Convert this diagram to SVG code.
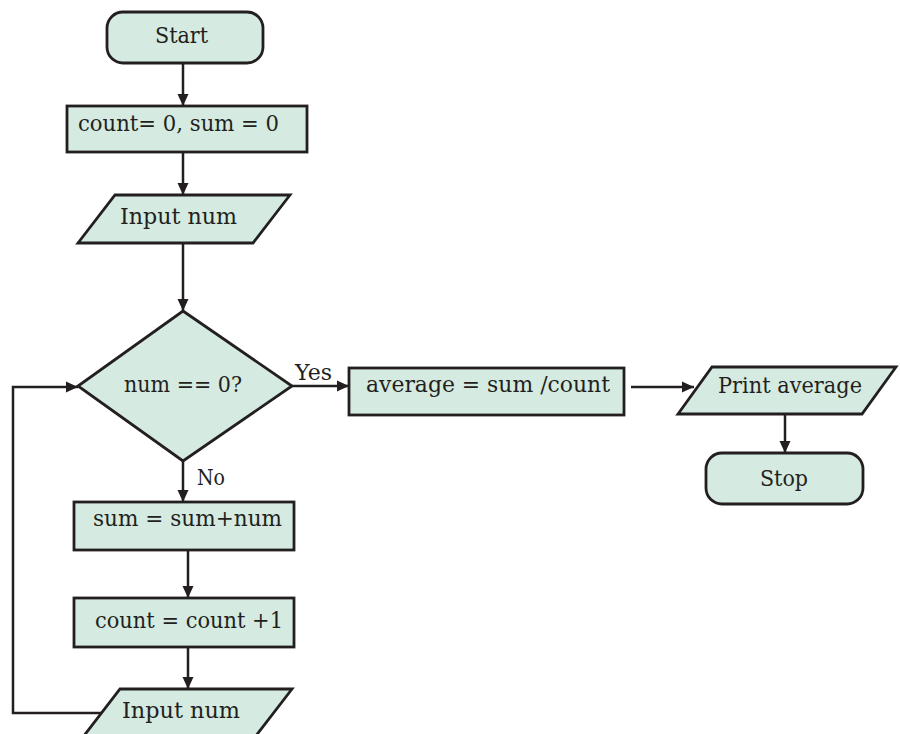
<svg xmlns="http://www.w3.org/2000/svg" width="900" height="734" viewBox="0 0 900 734">
<defs>
<marker id="ah" viewBox="0 0 12 12" refX="12" refY="6" markerWidth="12" markerHeight="12" markerUnits="userSpaceOnUse" orient="auto">
<path d="M0,0.5 L12,6 L0,11.5 z" fill="#231f20"/>
</marker>
<style>
.n{fill:#d5ebe1;stroke:#231f20;stroke-width:2.8}
.t{font-family:"DejaVu Serif","Liberation Serif",serif;font-size:23px;fill:#231f20}
.c{fill:none;stroke:#231f20;stroke-width:2.5}
</style>
</defs>
<rect width="900" height="734" fill="#ffffff"/>
<g id="connectors">
<line class="c" x1="183" y1="63" x2="183" y2="106" marker-end="url(#ah)"/>
<line class="c" x1="183" y1="152" x2="183" y2="195" marker-end="url(#ah)"/>
<line class="c" x1="183" y1="243" x2="183" y2="311" marker-end="url(#ah)"/>
<line class="c" x1="292" y1="386" x2="349" y2="386" marker-end="url(#ah)"/>
<line class="c" x1="631" y1="387" x2="694" y2="387" marker-end="url(#ah)"/>
<line class="c" x1="785" y1="414" x2="785" y2="453" marker-end="url(#ah)"/>
<line class="c" x1="183" y1="461" x2="183" y2="502" marker-end="url(#ah)"/>
<line class="c" x1="188" y1="550" x2="188" y2="598" marker-end="url(#ah)"/>
<line class="c" x1="188" y1="647" x2="188" y2="689" marker-end="url(#ah)"/>
<polyline class="c" points="102,713 13,713 13,387 78,387" marker-end="url(#ah)"/>
<text class="t" x="295" y="380" textLength="37" lengthAdjust="spacingAndGlyphs">Yes</text>
<text class="t" x="197" y="485" textLength="28" lengthAdjust="spacingAndGlyphs">No</text>
</g>
<g id="start">
<rect class="n" x="107" y="12" width="156" height="51" rx="16"/>
<text class="t" x="155" y="43" textLength="53" lengthAdjust="spacingAndGlyphs">Start</text>
</g>
<g id="init">
<rect class="n" x="67" y="106" width="240" height="46"/>
<text class="t" x="78" y="131" textLength="201" lengthAdjust="spacingAndGlyphs">count= 0, sum = 0</text>
</g>
<g id="input1">
<polygon class="n" points="115,195 290,195 253,243 78,243"/>
<text class="t" x="120" y="224" textLength="117" lengthAdjust="spacingAndGlyphs">Input num</text>
</g>
<g id="decision">
<polygon class="n" points="183,311 292,386 183,461 78,386"/>
<text class="t" x="124" y="392" textLength="118" lengthAdjust="spacingAndGlyphs">num == 0?</text>
</g>
<g id="average">
<rect class="n" x="349" y="368" width="275" height="47"/>
<text class="t" x="366" y="392" textLength="244" lengthAdjust="spacingAndGlyphs">average = sum /count</text>
</g>
<g id="print">
<polygon class="n" points="712,367 896,367 862,414 678,414"/>
<text class="t" x="718" y="393" textLength="144" lengthAdjust="spacingAndGlyphs">Print average</text>
</g>
<g id="stop">
<rect class="n" x="706" y="453" width="157" height="51" rx="16"/>
<text class="t" x="760" y="486" textLength="48" lengthAdjust="spacingAndGlyphs">Stop</text>
</g>
<g id="sum">
<rect class="n" x="74" y="502" width="220" height="48"/>
<text class="t" x="93" y="526" textLength="189" lengthAdjust="spacingAndGlyphs">sum = sum+num</text>
</g>
<g id="count">
<rect class="n" x="74" y="598" width="220" height="49"/>
<text class="t" x="95" y="628" textLength="188" lengthAdjust="spacingAndGlyphs">count = count +1</text>
</g>
<g id="input2">
<polygon class="n" points="120,689 292,689 255,737 83,737"/>
<text class="t" x="122" y="718" textLength="118" lengthAdjust="spacingAndGlyphs">Input num</text>
</g>
</svg>
